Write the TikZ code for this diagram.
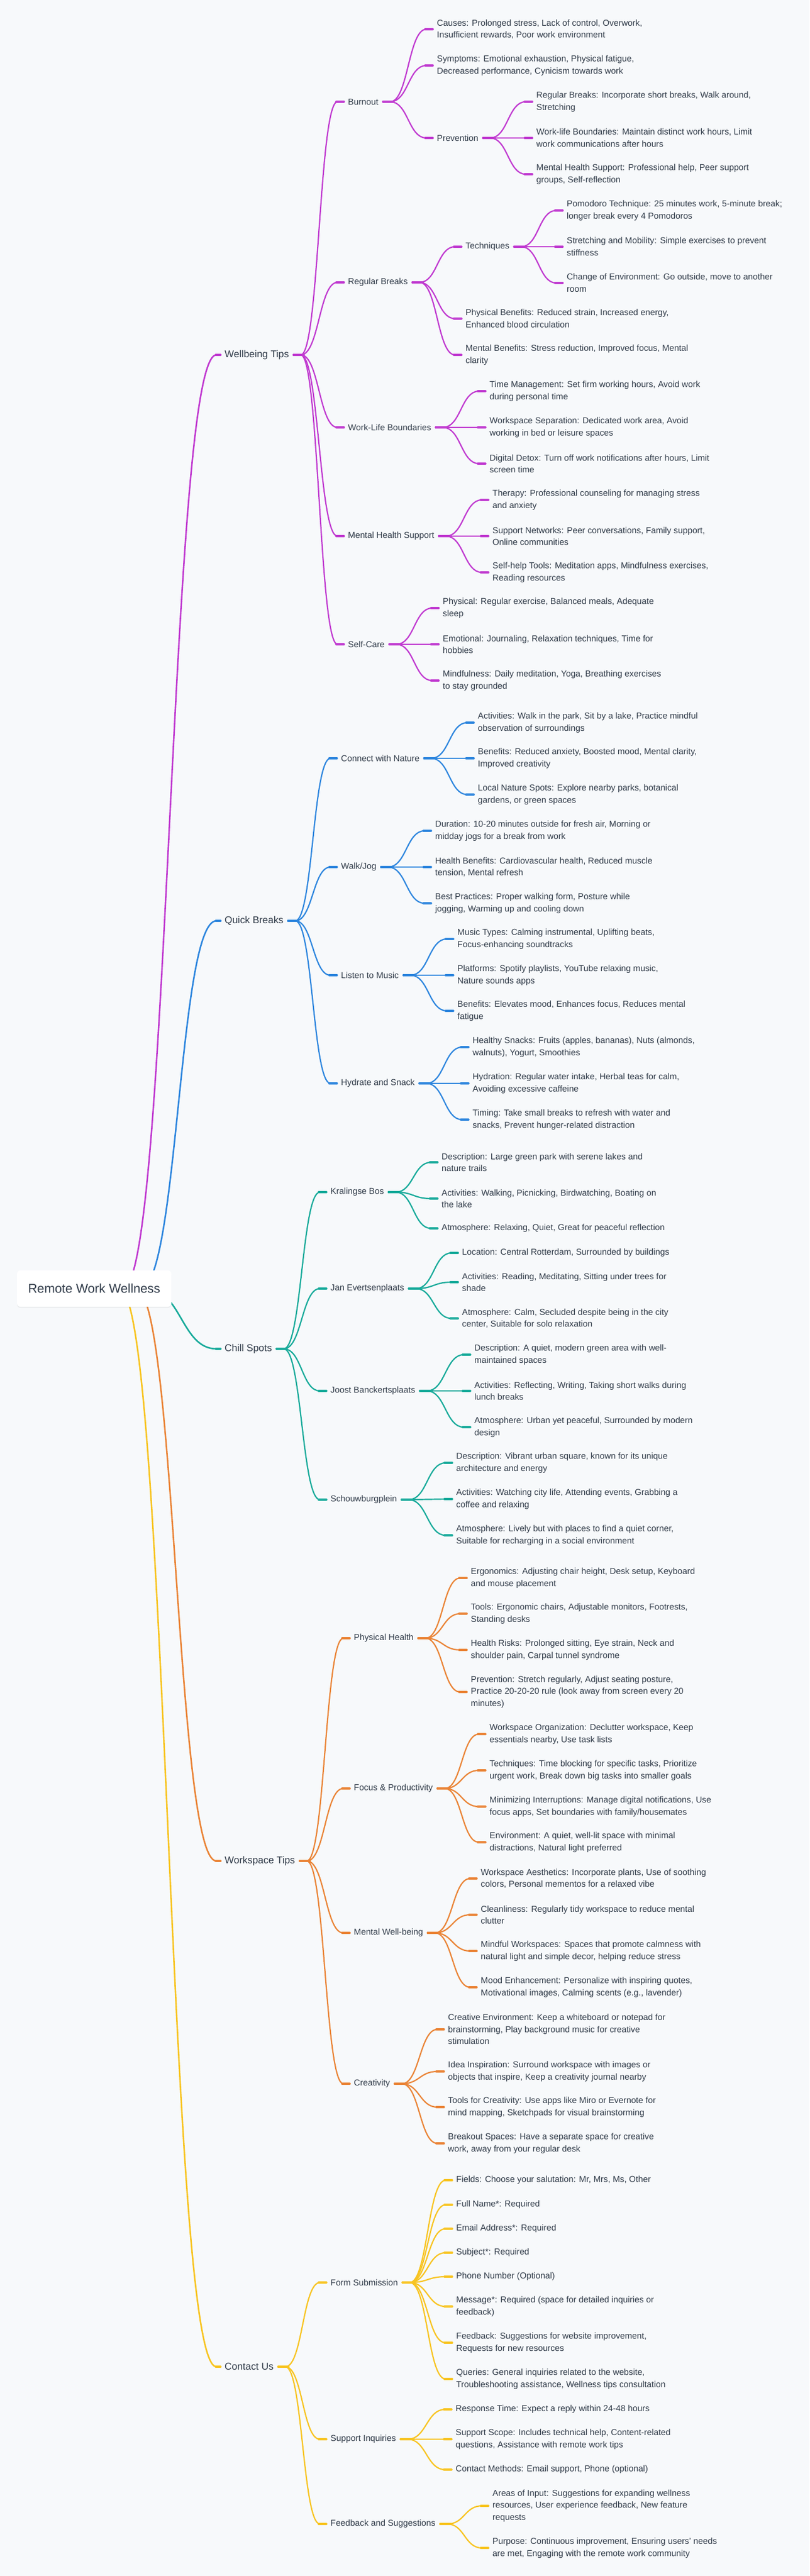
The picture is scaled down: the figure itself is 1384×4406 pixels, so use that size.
\documentclass[tikz,border=0pt]{standalone}
\usepackage{fontspec}
\setmainfont{Liberation Sans}
\usetikzlibrary{calc,shadows}

\definecolor{paper}{HTML}{F7F9FB}
\definecolor{ink}{HTML}{2F3A48}
\definecolor{wellC}{HTML}{C03AD0}
\definecolor{quickC}{HTML}{2E86DE}
\definecolor{chillC}{HTML}{17AA9A}
\definecolor{spaceC}{HTML}{EA8437}
\definecolor{contactC}{HTML}{F8C421}

\tikzset{
  leaf/.style={anchor=west, inner sep=0pt, align=left, text=ink,
    font=\fontsize{14.8}{20.6}\selectfont},
  topic/.style={leaf, font=\fontsize{16.9}{22}\selectfont},
  rootbox/.style={fill=white, rounded corners=6pt, minimum width=264pt,
    minimum height=62pt, text=ink, font=\fontsize{21.7}{26}\selectfont,
    drop shadow={shadow xshift=0pt, shadow yshift=-2pt, opacity=.05, fill=black}},
  limb/.style={draw=#1, line width=2.2pt, line cap=round},
  knob/.style={draw=#1, line width=3.6pt, line cap=round},
}

% parent -> child: curve between the two stubs
\newcommand{\branch}[3]{%
  \path ([xshift=20pt]#2.east) coordinate (bp);
  \path ([xshift=-18pt]#3.west) coordinate (bq);
  \path ($(bp)!.5!(bq)$) coordinate (bm);
  \draw[limb=#1] (bp) .. controls (bm |- bp) and (bm |- bq) .. (bq);
  \draw[knob=#1] ([xshift=8pt]#2.east) -- ([xshift=25pt]#2.east);
  \draw[knob=#1] ([xshift=-20pt]#3.west) -- ([xshift=-7pt]#3.west);
}
% root -> main topic
\newcommand{\trunk}[3]{%
  \path ([xshift=-14pt]#3.west) coordinate (bq);
  \path ($(#2)!.5!(bq)$) coordinate (bm);
  \draw[limb=#1, line width=2.6pt] (#2) .. controls (bm |- #2) and (bm |- bq) .. (bq);
  \draw[knob=#1] ([xshift=-15pt]#3.west) -- ([xshift=-7pt]#3.west);
}

\begin{document}
\begin{tikzpicture}[x=1pt, y=-1pt]
  \useasboundingbox (0,0) rectangle (1384,4406);
  \fill[paper] (0,0) rectangle (1384,4406);

  \coordinate (rootc) at (161,2204);
  \coordinate (rootW) at (210,2204);
  \coordinate (rootQ) at (240,2204);
  \coordinate (rootC) at (250,2204);
  \coordinate (rootS) at (232,2204);
  \coordinate (rootU) at (204,2204);

  % Wellbeing Tips
  \node[topic] (wellbeing) at (384,607) {Wellbeing Tips};
  \node[leaf] (burnout) at (595,174) {Burnout};
  \node[leaf] (causes) at (747,50) {Causes: Prolonged stress, Lack of control, Overwork,\\Insufficient rewards, Poor work environment};
  \node[leaf] (symptoms) at (747,112) {Symptoms: Emotional exhaustion, Physical fatigue,\\Decreased performance, Cynicism towards work};
  \node[leaf] (prevention) at (747,236) {Prevention};
  \node[leaf] (prevBreaks) at (917,174) {Regular Breaks: Incorporate short breaks, Walk around,\\Stretching};
  \node[leaf] (prevBound) at (917,236) {Work-life Boundaries: Maintain distinct work hours, Limit\\work communications after hours};
  \node[leaf] (prevSupport) at (917,298) {Mental Health Support: Professional help, Peer support\\groups, Self-reflection};
  \node[leaf] (breaks) at (595,483) {Regular Breaks};
  \node[leaf] (techniques) at (796,422) {Techniques};
  \node[leaf] (pomodoro) at (969,360) {Pomodoro Technique: 25 minutes work, 5-minute break;\\longer break every 4 Pomodoros};
  \node[leaf] (stretching) at (969,422) {Stretching and Mobility: Simple exercises to prevent\\stiffness};
  \node[leaf] (changeEnv) at (969,484) {Change of Environment: Go outside, move to another\\room};
  \node[leaf] (physBen) at (796,545) {Physical Benefits: Reduced strain, Increased energy,\\Enhanced blood circulation};
  \node[leaf] (mentBen) at (796,607) {Mental Benefits: Stress reduction, Improved focus, Mental\\clarity};
  \node[leaf] (boundaries) at (595,731) {Work-Life Boundaries};
  \node[leaf] (timeMgmt) at (837,669) {Time Management: Set firm working hours, Avoid work\\during personal time};
  \node[leaf] (wsSep) at (837,731) {Workspace Separation: Dedicated work area, Avoid\\working in bed or leisure spaces};
  \node[leaf] (detox) at (837,793) {Digital Detox: Turn off work notifications after hours, Limit\\screen time};
  \node[leaf] (mhs) at (595,917) {Mental Health Support};
  \node[leaf] (therapy) at (842,855) {Therapy: Professional counseling for managing stress\\and anxiety};
  \node[leaf] (supportNet) at (842,917) {Support Networks: Peer conversations, Family support,\\Online communities};
  \node[leaf] (selfHelp) at (842,979) {Self-help Tools: Meditation apps, Mindfulness exercises,\\Reading resources};
  \node[leaf] (selfcare) at (595,1102) {Self-Care};
  \node[leaf] (physical) at (757,1040) {Physical: Regular exercise, Balanced meals, Adequate\\sleep};
  \node[leaf] (emotional) at (757,1102) {Emotional: Journaling, Relaxation techniques, Time for\\hobbies};
  \node[leaf] (mindful) at (757,1164) {Mindfulness: Daily meditation, Yoga, Breathing exercises\\to stay grounded};

  % Quick Breaks
  \node[topic] (quick) at (384,1575) {Quick Breaks};
  \node[leaf] (nature) at (583,1297) {Connect with Nature};
  \node[leaf] (natAct) at (817,1236) {Activities: Walk in the park, Sit by a lake, Practice mindful\\observation of surroundings};
  \node[leaf] (natBen) at (817,1297) {Benefits: Reduced anxiety, Boosted mood, Mental clarity,\\Improved creativity};
  \node[leaf] (natSpots) at (817,1359) {Local Nature Spots: Explore nearby parks, botanical\\gardens, or green spaces};
  \node[leaf] (walk) at (583,1483) {Walk/Jog};
  \node[leaf] (walkDur) at (744,1421) {Duration: 10-20 minutes outside for fresh air, Morning or\\midday jogs for a break from work};
  \node[leaf] (walkBen) at (744,1483) {Health Benefits: Cardiovascular health, Reduced muscle\\tension, Mental refresh};
  \node[leaf] (walkBest) at (744,1545) {Best Practices: Proper walking form, Posture while\\jogging, Warming up and cooling down};
  \node[leaf] (music) at (583,1668) {Listen to Music};
  \node[leaf] (musTypes) at (782,1606) {Music Types: Calming instrumental, Uplifting beats,\\Focus-enhancing soundtracks};
  \node[leaf] (musPlat) at (782,1668) {Platforms: Spotify playlists, YouTube relaxing music,\\Nature sounds apps};
  \node[leaf] (musBen) at (782,1729) {Benefits: Elevates mood, Enhances focus, Reduces mental\\fatigue};
  \node[leaf] (hydrate) at (583,1853) {Hydrate and Snack};
  \node[leaf] (snacks) at (808,1791) {Healthy Snacks: Fruits (apples, bananas), Nuts (almonds,\\walnuts), Yogurt, Smoothies};
  \node[leaf] (hydration) at (808,1853) {Hydration: Regular water intake, Herbal teas for calm,\\Avoiding excessive caffeine};
  \node[leaf] (timing) at (808,1915) {Timing: Take small breaks to refresh with water and\\snacks, Prevent hunger-related distraction};

  % Chill Spots
  \node[topic] (chill) at (384,2307) {Chill Spots};
  \node[leaf] (kralingse) at (565,2039) {Kralingse Bos};
  \node[leaf] (kraDesc) at (755,1988) {Description: Large green park with serene lakes and\\nature trails};
  \node[leaf] (kraAct) at (755,2050) {Activities: Walking, Picnicking, Birdwatching, Boating on\\the lake};
  \node[leaf] (kraAtm) at (755,2101) {Atmosphere: Relaxing, Quiet, Great for peaceful reflection};
  \node[leaf] (jan) at (565,2204) {Jan Evertsenplaats};
  \node[leaf] (janLoc) at (790,2143) {Location: Central Rotterdam, Surrounded by buildings};
  \node[leaf] (janAct) at (790,2193) {Activities: Reading, Meditating, Sitting under trees for\\shade};
  \node[leaf] (janAtm) at (790,2255) {Atmosphere: Calm, Secluded despite being in the city\\center, Suitable for solo relaxation};
  \node[leaf] (joost) at (565,2379) {Joost Banckertsplaats};
  \node[leaf] (jooDesc) at (811,2317) {Description: A quiet, modern green area with well-\\maintained spaces};
  \node[leaf] (jooAct) at (811,2379) {Activities: Reflecting, Writing, Taking short walks during\\lunch breaks};
  \node[leaf] (jooAtm) at (811,2441) {Atmosphere: Urban yet peaceful, Surrounded by modern\\design};
  \node[leaf] (schouw) at (565,2565) {Schouwburgplein};
  \node[leaf] (schDesc) at (780,2502) {Description: Vibrant urban square, known for its unique\\architecture and energy};
  \node[leaf] (schAct) at (780,2564) {Activities: Watching city life, Attending events, Grabbing a\\coffee and relaxing};
  \node[leaf] (schAtm) at (780,2626) {Atmosphere: Lively but with places to find a quiet corner,\\Suitable for recharging in a social environment};

  % Workspace Tips
  \node[topic] (workspace) at (384,3183) {Workspace Tips};
  \node[leaf] (physHealth) at (605,2802) {Physical Health};
  \node[leaf] (ergo) at (805,2699) {Ergonomics: Adjusting chair height, Desk setup, Keyboard\\and mouse placement};
  \node[leaf] (tools) at (805,2760) {Tools: Ergonomic chairs, Adjustable monitors, Footrests,\\Standing desks};
  \node[leaf] (risks) at (805,2822) {Health Risks: Prolonged sitting, Eye strain, Neck and\\shoulder pain, Carpal tunnel syndrome};
  \node[leaf] (physPrev) at (805,2894) {Prevention: Stretch regularly, Adjust seating posture,\\Practice 20-20-20 rule (look away from screen every 20\\minutes)};
  \node[leaf] (focus) at (605,3059) {Focus \& Productivity};
  \node[leaf] (organize) at (837,2966) {Workspace Organization: Declutter workspace, Keep\\essentials nearby, Use task lists};
  \node[leaf] (focTech) at (837,3028) {Techniques: Time blocking for specific tasks, Prioritize\\urgent work, Break down big tasks into smaller goals};
  \node[leaf] (interrupt) at (837,3090) {Minimizing Interruptions: Manage digital notifications, Use\\focus apps, Set boundaries with family/housemates};
  \node[leaf] (environ) at (837,3151) {Environment: A quiet, well-lit space with minimal\\distractions, Natural light preferred};
  \node[leaf] (mentalWB) at (605,3306) {Mental Well-being};
  \node[leaf] (aesthetics) at (822,3213) {Workspace Aesthetics: Incorporate plants, Use of soothing\\colors, Personal mementos for a relaxed vibe};
  \node[leaf] (clean) at (822,3275) {Cleanliness: Regularly tidy workspace to reduce mental\\clutter};
  \node[leaf] (mindWs) at (822,3337) {Mindful Workspaces: Spaces that promote calmness with\\natural light and simple decor, helping reduce stress};
  \node[leaf] (mood) at (822,3399) {Mood Enhancement: Personalize with inspiring quotes,\\Motivational images, Calming scents (e.g., lavender)};
  \node[leaf] (creativity) at (605,3564) {Creativity};
  \node[leaf] (creaEnv) at (766,3471) {Creative Environment: Keep a whiteboard or notepad for\\brainstorming, Play background music for creative\\stimulation};
  \node[leaf] (idea) at (766,3543) {Idea Inspiration: Surround workspace with images or\\objects that inspire, Keep a creativity journal nearby};
  \node[leaf] (creaTools) at (766,3604) {Tools for Creativity: Use apps like Miro or Evernote for\\mind mapping, Sketchpads for visual brainstorming};
  \node[leaf] (breakout) at (766,3666) {Breakout Spaces: Have a separate space for creative\\work, away from your regular desk};

  % Contact Us
  \node[topic] (contact) at (384,4048) {Contact Us};
  \node[leaf] (form) at (565,3904) {Form Submission};
  \node[leaf] (fields) at (780,3729) {Fields: Choose your salutation: Mr, Mrs, Ms, Other};
  \node[leaf] (fullName) at (780,3771) {Full Name*: Required};
  \node[leaf] (email) at (780,3812) {Email Address*: Required};
  \node[leaf] (subject) at (780,3853) {Subject*: Required};
  \node[leaf] (phone) at (780,3894) {Phone Number (Optional)};
  \node[leaf] (message) at (780,3945) {Message*: Required (space for detailed inquiries or\\feedback)};
  \node[leaf] (formFb) at (780,4007) {Feedback: Suggestions for website improvement,\\Requests for new resources};
  \node[leaf] (queries) at (780,4069) {Queries: General inquiries related to the website,\\Troubleshooting assistance, Wellness tips consultation};
  \node[leaf] (support) at (565,4172) {Support Inquiries};
  \node[leaf] (response) at (779,4121) {Response Time: Expect a reply within 24-48 hours};
  \node[leaf] (scope) at (779,4172) {Support Scope: Includes technical help, Content-related\\questions, Assistance with remote work tips};
  \node[leaf] (methods) at (779,4224) {Contact Methods: Email support, Phone (optional)};
  \node[leaf] (feedback) at (565,4317) {Feedback and Suggestions};
  \node[leaf] (areas) at (842,4286) {Areas of Input: Suggestions for expanding wellness\\resources, User experience feedback, New feature\\requests};
  \node[leaf] (purpose) at (842,4358) {Purpose: Continuous improvement, Ensuring users’ needs\\are met, Engaging with the remote work community};

  % connectors
  \trunk{wellC}{rootW}{wellbeing}
  \trunk{quickC}{rootQ}{quick}
  \trunk{chillC}{rootC}{chill}
  \trunk{spaceC}{rootS}{workspace}
  \trunk{contactC}{rootU}{contact}

  \foreach \c in {burnout,breaks,boundaries,mhs,selfcare} {\branch{wellC}{wellbeing}{\c}}
  \foreach \c in {causes,symptoms,prevention} {\branch{wellC}{burnout}{\c}}
  \foreach \c in {prevBreaks,prevBound,prevSupport} {\branch{wellC}{prevention}{\c}}
  \foreach \c in {techniques,physBen,mentBen} {\branch{wellC}{breaks}{\c}}
  \foreach \c in {pomodoro,stretching,changeEnv} {\branch{wellC}{techniques}{\c}}
  \foreach \c in {timeMgmt,wsSep,detox} {\branch{wellC}{boundaries}{\c}}
  \foreach \c in {therapy,supportNet,selfHelp} {\branch{wellC}{mhs}{\c}}
  \foreach \c in {physical,emotional,mindful} {\branch{wellC}{selfcare}{\c}}

  \foreach \c in {nature,walk,music,hydrate} {\branch{quickC}{quick}{\c}}
  \foreach \c in {natAct,natBen,natSpots} {\branch{quickC}{nature}{\c}}
  \foreach \c in {walkDur,walkBen,walkBest} {\branch{quickC}{walk}{\c}}
  \foreach \c in {musTypes,musPlat,musBen} {\branch{quickC}{music}{\c}}
  \foreach \c in {snacks,hydration,timing} {\branch{quickC}{hydrate}{\c}}

  \foreach \c in {kralingse,jan,joost,schouw} {\branch{chillC}{chill}{\c}}
  \foreach \c in {kraDesc,kraAct,kraAtm} {\branch{chillC}{kralingse}{\c}}
  \foreach \c in {janLoc,janAct,janAtm} {\branch{chillC}{jan}{\c}}
  \foreach \c in {jooDesc,jooAct,jooAtm} {\branch{chillC}{joost}{\c}}
  \foreach \c in {schDesc,schAct,schAtm} {\branch{chillC}{schouw}{\c}}

  \foreach \c in {physHealth,focus,mentalWB,creativity} {\branch{spaceC}{workspace}{\c}}
  \foreach \c in {ergo,tools,risks,physPrev} {\branch{spaceC}{physHealth}{\c}}
  \foreach \c in {organize,focTech,interrupt,environ} {\branch{spaceC}{focus}{\c}}
  \foreach \c in {aesthetics,clean,mindWs,mood} {\branch{spaceC}{mentalWB}{\c}}
  \foreach \c in {creaEnv,idea,creaTools,breakout} {\branch{spaceC}{creativity}{\c}}

  \foreach \c in {form,support,feedback} {\branch{contactC}{contact}{\c}}
  \foreach \c in {fields,fullName,email,subject,phone,message,formFb,queries} {\branch{contactC}{form}{\c}}
  \foreach \c in {response,scope,methods} {\branch{contactC}{support}{\c}}
  \foreach \c in {areas,purpose} {\branch{contactC}{feedback}{\c}}

  \node[rootbox] (root) at (rootc) {Remote Work Wellness};
\end{tikzpicture}
\end{document}
